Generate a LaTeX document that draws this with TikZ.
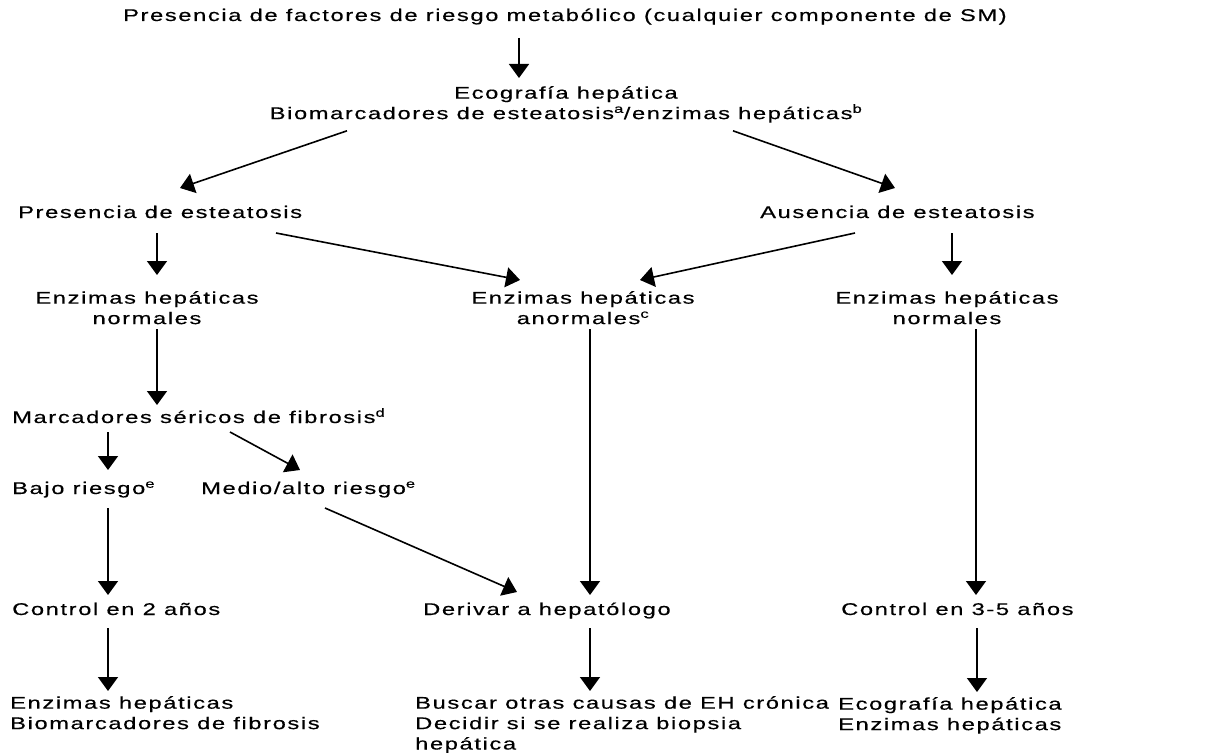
\documentclass[tikz,border=0pt]{standalone}
\usepackage{fontspec}
\setmainfont{Liberation Sans}[FakeStretch=1.4, LetterSpace=9.5, FakeBold=0.4]
\usetikzlibrary{arrows.meta}

\begin{document}
\begin{tikzpicture}[x=1bp, y=-1bp,
    txt/.style={inner sep=0pt, font=\fontsize{17}{20.5}\selectfont},
    flow/.style={-{Triangle[length=14bp, width=20bp]}, line width=1.6bp}]

  \useasboundingbox (0,0) rectangle (1205,753);
  \fill[white] (0,0) rectangle (1205,753);

  % ---------- Top ----------
  \node[txt, anchor=base] (risk) at (565,21)
    {Presencia de factores de riesgo metabólico (cualquier componente de SM)};
  \node[txt, anchor=north, align=center] (eco) at (566,86)
    {Ecografía hepática\\Biomarcadores de esteatosis\textsuperscript{a}/enzimas hepáticas\textsuperscript{b}};

  % ---------- Steatosis ----------
  \node[txt, anchor=base west] (pres) at (18,218) {Presencia de esteatosis};
  \node[txt, anchor=base west] (aus) at (760,218) {Ausencia de esteatosis};

  % ---------- Enzymes ----------
  \node[txt, anchor=north, align=center] (enzl) at (147,291) {Enzimas hepáticas\\normales};
  \node[txt, anchor=north, align=center] (enzm) at (583,291) {Enzimas hepáticas\\anormales\textsuperscript{c}};
  \node[txt, anchor=north, align=center] (enzr) at (947,291) {Enzimas hepáticas\\normales};

  % ---------- Fibrosis ----------
  \node[txt, anchor=base west] (marc) at (12,423) {Marcadores séricos de fibrosis\textsuperscript{d}};
  \node[txt, anchor=base west] (bajo) at (12,494) {Bajo riesgo\textsuperscript{e}};
  \node[txt, anchor=base west] (medio) at (201,494) {Medio/alto riesgo\textsuperscript{e}};

  % ---------- Follow-up ----------
  \node[txt, anchor=base west] (ctrl2) at (12,615) {Control en 2 años};
  \node[txt, anchor=base west] (deriv) at (423,615) {Derivar a hepatólogo};
  \node[txt, anchor=base west] (ctrl35) at (841,615) {Control en 3-5 años};

  % ---------- Bottom ----------
  \node[txt, anchor=north west, align=left] (botl) at (10,696)
    {Enzimas hepáticas\\Biomarcadores de fibrosis};
  \node[txt, anchor=north west, align=left] (botm) at (415,696)
    {Buscar otras causas de EH crónica\\Decidir si se realiza biopsia\\hepática};
  \node[txt, anchor=north west, align=left] (botr) at (838,697)
    {Ecografía hepática\\Enzimas hepáticas};

  % ---------- Arrows ----------
  \draw[flow] ([yshift=-17bp]risk.base -| 519,0) -- ([yshift=8bp]eco.north -| 519,0);
  \draw[flow] ([yshift=-8bp]eco.south -| 347,0) -- ([yshift=30bp]pres.base -| 180,0);
  \draw[flow] ([yshift=-8bp]eco.south -| 733,0) -- ([yshift=30bp]aus.base -| 895,0);

  \draw[flow] ([yshift=-15bp]pres.base -| 157,0) -- ([yshift=16bp]enzl.north -| 157,0);
  \draw[flow] ([yshift=-15bp]pres.base -| 276,0) -- ([yshift=11bp]enzm.north -| 520,0);
  \draw[flow] ([yshift=-15bp]aus.base -| 855,0) -- ([yshift=11bp]enzm.north -| 640,0);
  \draw[flow] ([yshift=-15bp]aus.base -| 952,0) -- ([yshift=16bp]enzr.north -| 952,0);

  \draw[flow] ([yshift=-5bp]enzl.south -| 157,0) -- ([yshift=18bp]marc.base -| 157,0);
  \draw[flow] ([yshift=-5bp]enzm.south -| 590,0) -- ([yshift=20bp]deriv.base -| 590,0);
  \draw[flow] ([yshift=-5bp]enzr.south -| 976,0) -- ([yshift=20bp]ctrl35.base -| 976,0);

  \draw[flow] ([yshift=-9bp]marc.base -| 108,0) -- ([yshift=24bp]bajo.base -| 108,0);
  \draw[flow] ([yshift=-9bp]marc.base -| 230,0) -- ([yshift=24bp]medio.base -| 300,0);
  \draw[flow] ([yshift=-14bp]bajo.base -| 108,0) -- ([yshift=20bp]ctrl2.base -| 108,0);
  \draw[flow] ([yshift=-14bp]medio.base -| 325,0) -- ([yshift=23bp]deriv.base -| 517,0);

  \draw[flow] ([yshift=-13bp]ctrl2.base -| 108,0) -- ([yshift=5bp]botl.north -| 108,0);
  \draw[flow] ([yshift=-13bp]deriv.base -| 590,0) -- ([yshift=5bp]botm.north -| 590,0);
  \draw[flow] ([yshift=-13bp]ctrl35.base -| 977,0) -- ([yshift=5bp]botr.north -| 977,0);

\end{tikzpicture}
\end{document}
